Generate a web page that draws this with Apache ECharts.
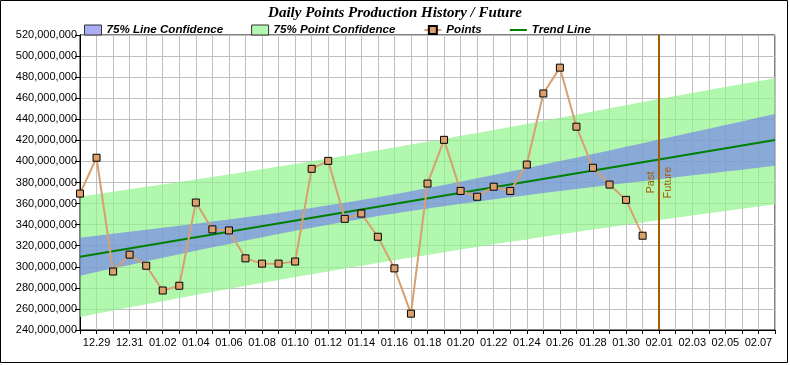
<!DOCTYPE html>
<html>
<head>
<meta charset="utf-8">
<style>
html,body{margin:0;padding:0;background:#fff;}
#c{width:790px;height:365px;}
</style>
<script src="https://cdn.jsdelivr.net/npm/echarts@6/dist/echarts.min.js"></script>
</head>
<body>
<div id="c"></div>
<script>
// Categories (days)
var categories = ['12.28','12.29','12.30','12.31','01.01','01.02','01.03','01.04','01.05','01.06','01.07','01.08','01.09','01.10','01.11','01.12','01.13','01.14','01.15','01.16','01.17','01.18','01.19','01.20','01.21','01.22','01.23','01.24','01.25','01.26','01.27','01.28','01.29','01.30','01.31','02.01','02.02','02.03','02.04','02.05','02.06','02.07','02.08'];

// Daily points (millions)
var points = [369.5,403.5,295.5,311.5,301,277.5,282,361,335.5,334.5,308,303,303,305,393,400.5,345.5,350.5,328.5,298.5,255.5,379,420.5,372,366.5,376,372,397,464.5,489,433,394,378,363.5,329.5];

// Trend line end points (category index, millions)
var trendStart = [0, 309.6];
var trendEnd = [42, 420.4];

// 75% line confidence band (millions)
var lineConfLow = [291.6,295.0,298.5,301.8,305.3,308.6,311.9,315.3,318.5,321.7,324.9,328.1,331.2,334.2,337.1,340.0,342.8,345.4,348.1,350.5,353.0,355.3,357.5,359.8,361.8,364.0,366.0,368.0,370.0,371.9,373.8,375.7,377.6,379.5,381.3,383.1,385.0,386.8,388.6,390.4,392.2,394.0,395.8];
var lineConfHigh = [327.6,329.4,331.3,333.2,335.1,337.0,338.9,340.9,342.9,344.9,347.1,349.1,351.4,353.6,355.9,358.4,360.8,363.4,366.1,368.9,371.8,374.7,377.7,380.8,384.0,387.2,390.4,393.6,397.0,400.3,403.6,407.1,410.4,413.9,417.3,420.7,424.2,427.6,431.0,434.6,438.0,441.6,445.0];

// 75% point confidence band (millions)
var pointConfLow = [252.4,255.5,258.5,261.5,264.5,267.4,270.3,273.3,276.2,279.0,281.9,284.6,287.5,290.2,292.9,295.6,298.3,300.9,303.6,306.1,308.8,311.3,313.8,316.3,318.8,321.3,323.7,326.0,328.4,330.7,333.0,335.4,337.6,340.0,342.1,344.3,346.6,348.7,350.8,353.0,355.1,357.2,359.4];
var pointConfHigh = [366.8,368.9,371.3,373.5,375.9,378.2,380.5,382.9,385.2,387.6,390.1,392.6,395.1,397.6,400.1,402.8,405.3,407.9,410.6,413.3,416.0,418.7,421.4,424.3,427.0,429.9,432.7,435.6,438.6,441.5,444.4,447.4,450.4,453.4,456.5,459.3,462.2,465.0,467.8,470.6,473.4,476.2,479.0];

var pastFutureAt = '02.01';

var pointDiff = pointConfHigh.map(function(v,i){return +(v - pointConfLow[i]).toFixed(2);});
var lineDiff = lineConfHigh.map(function(v,i){return +(v - lineConfLow[i]).toFixed(2);});

var GREEN = 'rgba(144,244,140,0.7)';
var BLUE = 'rgba(110,117,241,0.6)';
var PF = '#a35c00';
var SANS = '"Liberation Sans", Arial, sans-serif';

function fmt(v){
  return Math.round(v*1e6).toString().replace(/\B(?=(\d{3})+(?!\d))/g, ',');
}

var chart = echarts.init(document.getElementById('c'), null, {renderer:'canvas'});
chart.setOption({
  animation: false,
  backgroundColor: '#fff',
  title: {
    text: 'Daily Points Production History / Future',
    left: 'center', top: 1,
    textStyle: {fontFamily: '"Liberation Serif", "Times New Roman", serif', fontStyle: 'italic', fontWeight: 'bold', fontSize: 15, color: '#000'}
  },
  legend: {
    left: 79, top: 19,
    itemWidth: 17, itemHeight: 10, itemGap: 28,
    symbolKeepAspect: true,
    textStyle: {fontFamily: SANS, fontStyle: 'italic', fontWeight: 'bold', fontSize: 11.6, color: '#000'},
    data: [
      {name: '75% Line Confidence', icon: 'rect', itemStyle: {color: '#a9adf3', borderColor: '#333', borderWidth: 1}},
      {name: '75% Point Confidence', icon: 'rect', itemStyle: {color: '#b3f7b0', borderColor: '#333', borderWidth: 1}},
      {name: 'Points'},
      {name: 'Trend Line', icon: 'path://M0,0H17V2H0Z', itemStyle: {color: '#008000', borderWidth: 0}}
    ]
  },
  grid: {left: 80, right: 15, top: 35, bottom: 35, show: true, borderColor: '#000', borderWidth: 1},
  xAxis: {
    type: 'category', data: categories, boundaryGap: false,
    axisLine: {lineStyle: {color: '#000'}},
    axisTick: {show: true, interval: 0, length: 4, lineStyle: {color: '#000'}},
    axisLabel: {
      interval: function(i){ return i % 2 === 1 && i < categories.length - 1; },
      fontFamily: SANS, fontSize: 11, color: '#000', margin: 7
    },
    splitLine: {show: true, interval: 0, lineStyle: {color: '#c0c0c0', width: 1}}
  },
  yAxis: {
    type: 'value', min: 240, max: 520, interval: 20,
    axisLine: {show: true, lineStyle: {color: '#000'}},
    axisTick: {show: true, length: 5, lineStyle: {color: '#000'}},
    axisLabel: {formatter: fmt, fontFamily: SANS, fontSize: 11, color: '#000', margin: 3},
    splitLine: {show: true, lineStyle: {color: '#c0c0c0', width: 1}}
  },
  series: [
    {name: 'pcBase', type: 'line', stack: 'pc', data: pointConfLow, symbol: 'none', lineStyle: {opacity: 0}, silent: true, z: 1},
    {name: '75% Point Confidence', type: 'line', stack: 'pc', data: pointDiff, symbol: 'none', lineStyle: {opacity: 0}, areaStyle: {color: GREEN, opacity: 1}, itemStyle: {color: GREEN}, silent: true, z: 1},
    {name: 'lcBase', type: 'line', stack: 'lc', data: lineConfLow, symbol: 'none', lineStyle: {opacity: 0}, silent: true, z: 2},
    {name: '75% Line Confidence', type: 'line', stack: 'lc', data: lineDiff, symbol: 'none', lineStyle: {opacity: 0}, areaStyle: {color: BLUE, opacity: 1}, itemStyle: {color: BLUE}, silent: true, z: 2},
    {name: 'Trend Line', type: 'line', data: [trendStart, trendEnd], symbol: 'none', lineStyle: {color: '#008000', width: 2}, itemStyle: {color: '#008000'}, z: 3},
    {name: 'Points', type: 'line', data: points, symbol: 'rect', symbolSize: 7,
      lineStyle: {color: '#d6a070', width: 2},
      itemStyle: {color: '#dba06c', borderColor: '#000', borderWidth: 1},
      z: 4,
      markLine: {
        silent: true, symbol: 'none',
        lineStyle: {color: PF, width: 2, type: 'solid'},
        label: {color: PF, fontFamily: SANS, fontSize: 11},
        data: [
          {xAxis: pastFutureAt, label: {formatter: 'Past', position: 'insideMiddleTop', distance: 3}},
          {xAxis: pastFutureAt, label: {formatter: 'Future', position: 'insideMiddleBottom', distance: 3}}
        ]
      }
    }
  ],
  graphic: [{
    type: 'rect', silent: true, z: 100,
    shape: {x: 0.5, y: 0.5, width: 787, height: 362},
    style: {fill: 'none', stroke: '#000', lineWidth: 1}
  }]
});
</script>
</body>
</html>
